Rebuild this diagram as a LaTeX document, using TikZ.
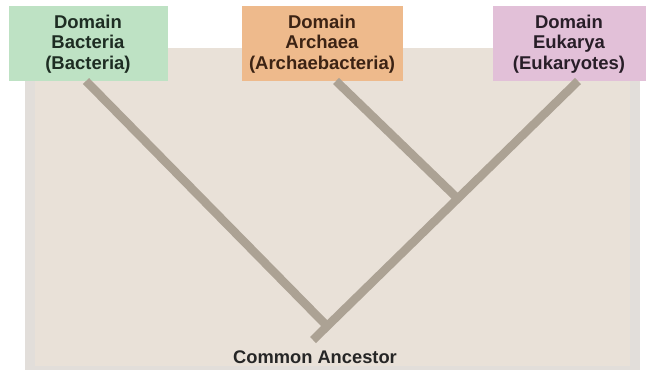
\documentclass[tikz,border=0pt]{standalone}
\usepackage{fontspec}
\setmainfont{Liberation Sans}
\definecolor{panel}{RGB}{233,225,216}
\definecolor{paneledge}{RGB}{226,222,218}
\definecolor{branch}{RGB}{172,162,148}
\definecolor{bactfill}{RGB}{190,226,196}
\definecolor{archfill}{RGB}{238,186,140}
\definecolor{eukfill}{RGB}{226,192,216}
\definecolor{bacttext}{RGB}{30,45,35}
\definecolor{archtext}{RGB}{60,35,20}
\definecolor{euktext}{RGB}{40,30,40}
\begin{document}
\begin{tikzpicture}[x=1pt,y=-1pt,
  domainbox/.style={minimum height=75pt, inner sep=0pt, align=center,
    font=\fontsize{18.5}{20.5}\selectfont\bfseries},
  branchline/.style={draw=branch, line width=8.5pt, line cap=butt}]
\useasboundingbox (0,0) rectangle (650,377);
\fill[white] (0,0) rectangle (650,377);
% panel
\fill[paneledge] (25,48) rectangle (640,370);
\fill[panel] (35,48) rectangle (630,366);
% domain boxes
\node[domainbox, fill=bactfill, text=bacttext, minimum width=159pt] (bact) at (88,44) {Domain\\Bacteria\\(Bacteria)};
\node[domainbox, fill=archfill, text=archtext, minimum width=161pt] (arch) at (322,44) {Domain\\Archaea\\(Archaebacteria)};
\node[domainbox, fill=eukfill, text=euktext, minimum width=153pt] (euk) at (569,44) {Domain\\Eukarya\\(Eukaryotes)};
% branch points
\coordinate (bstart) at (86,81);
\coordinate (astart) at (336,81);
\coordinate (estart) at (578,81);
\coordinate (junction) at (455,196);
\coordinate (root) at (325,324);
\coordinate (stub) at (313,340);
\draw[branchline] (bstart) -- (root);
\draw[branchline] (astart) -- (junction);
\draw[branchline] (estart) -- (stub);
% label
\node[font=\fontsize{18.3}{20}\selectfont\bfseries, text=black!85] (ancestor) at (315,357) {Common Ancestor};
\end{tikzpicture}
\end{document}
